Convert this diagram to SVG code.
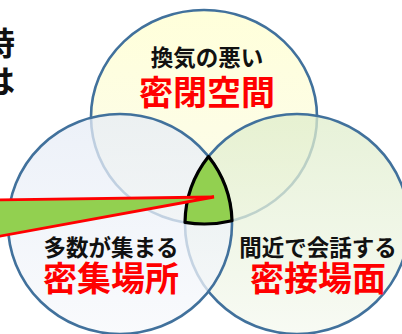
<svg xmlns="http://www.w3.org/2000/svg" width="402" height="334" viewBox="0 0 402 334">
<style>
.ring{stroke:#41719C;stroke-width:2.6;}
.lbl{font-family:"Noto Sans CJK JP","Noto Sans",sans-serif;font-weight:bold;text-anchor:middle;}
.blk{fill:#111;font-size:22.5px;}
.red{fill:#FF0000;font-size:34px;}
.side{font-family:"Noto Sans CJK JP","Noto Sans",sans-serif;font-weight:bold;fill:#111;font-size:32px;text-anchor:end;}
</style>
<defs>
<linearGradient id="gTop" x1="0" y1="0" x2="0" y2="1">
<stop offset="0" stop-color="#FFFFD6"/>
<stop offset="1" stop-color="#FBFBEC"/>
</linearGradient>
<linearGradient id="gLeft" x1="0" y1="0" x2="0" y2="1">
<stop offset="0" stop-color="#E6ECF6"/>
<stop offset="1" stop-color="#F7F9FC"/>
</linearGradient>
<linearGradient id="gRight" x1="0" y1="0" x2="0" y2="1">
<stop offset="0" stop-color="#DFEDCB"/>
<stop offset="1" stop-color="#F5F9F0"/>
</linearGradient>
</defs>
<rect width="402" height="334" fill="#FFFFFF"/>
<g id="side-text">
<text class="side" x="15" y="55">時</text>
<text class="side" x="15" y="93">は</text>
</g>
<g id="node-top">
<ellipse class="ring" cx="204" cy="117" rx="113" ry="107" fill="url(#gTop)" fill-opacity="0.9"/>
</g>
<g id="node-right">
<ellipse class="ring" cx="297" cy="224" rx="112" ry="110" fill="url(#gRight)" fill-opacity="0.75"/>
</g>
<g id="node-left">
<ellipse class="ring" cx="120" cy="224" rx="112" ry="110" fill="url(#gLeft)" fill-opacity="0.75"/>
</g>
<g id="node-center">
<path d="M208.5 156.6 A112 110 0 0 1 232 220.7 A113 107 0 0 1 185 222.4 A112 110 0 0 1 208.5 156.6 Z" fill="#92D050" stroke="#000" stroke-width="3.2" stroke-linejoin="round"/>
</g>
<g id="connectors">
<polygon points="-2,200 214,197 -2,236.5" fill="#92D050" stroke="#FF0000" stroke-width="2.8" stroke-linejoin="miter"/>
</g>
<g id="labels-top">
<text class="lbl blk" x="207" y="66">換気の悪い</text>
<text class="lbl red" x="207" y="105">密閉空間</text>
</g>
<g id="labels-left">
<text class="lbl blk" x="111" y="256">多数が集まる</text>
<text class="lbl red" x="111" y="291">密集場所</text>
</g>
<g id="labels-right">
<text class="lbl blk" x="318" y="256">間近で会話する</text>
<text class="lbl red" x="318" y="291">密接場面</text>
</g>
</svg>
